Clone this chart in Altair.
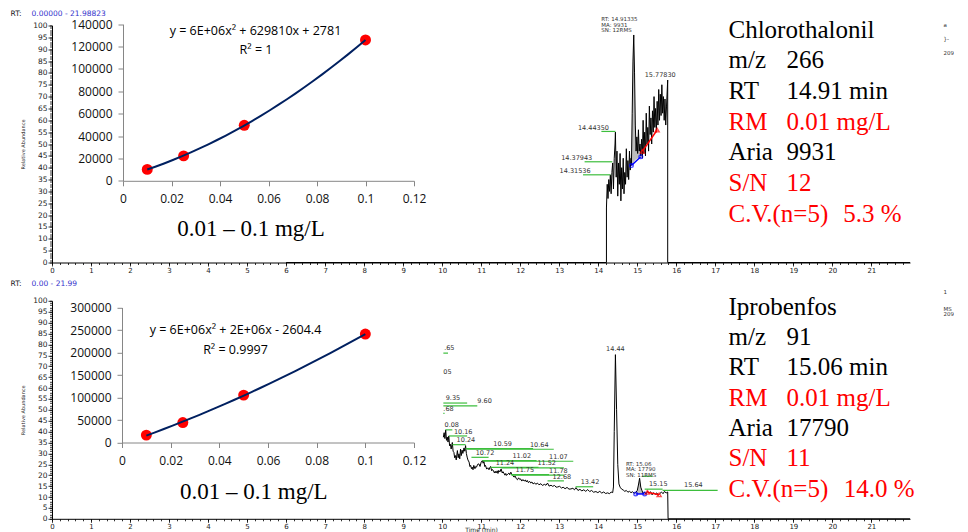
import altair as alt
import pandas as pd

# ------------------------------------------------------------------ data
conc = [0.01, 0.025, 0.05, 0.1]
top_area = [10200, 22300, 49600, 125900]
bot_area = [16400, 44400, 105300, 240900]

# chromatogram traces (time min, relative abundance %)
top_trace = [
    (6.00, 0), (14.21, 0), (14.21, 23), (14.23, 33), (14.25, 27), (14.27, 35), (14.29, 30),
    (14.31, 37), (14.33, 29), (14.35, 38), (14.37, 42), (14.39, 31), (14.41, 44), (14.43, 50),
    (14.44, 55), (14.46, 36), (14.48, 47), (14.50, 28), (14.52, 42), (14.54, 33), (14.56, 46),
    (14.58, 26), (14.60, 40), (14.62, 31), (14.64, 44), (14.66, 29), (14.68, 38), (14.70, 33),
    (14.72, 48), (14.74, 36), (14.76, 43), (14.78, 35), (14.80, 47), (14.82, 39), (14.84, 44),
    (14.85, 41), (14.87, 63), (14.89, 85), (14.91, 96), (14.93, 80), (14.95, 58), (14.97, 47),
    (14.99, 53), (15.01, 46), (15.03, 56), (15.05, 47), (15.07, 50), (15.09, 45), (15.11, 52),
    (15.13, 44), (15.15, 60), (15.17, 46), (15.19, 55), (15.21, 45), (15.23, 63), (15.25, 50),
    (15.27, 57), (15.29, 47), (15.31, 66), (15.33, 54), (15.35, 61), (15.37, 50), (15.39, 64),
    (15.41, 55), (15.43, 70), (15.45, 57), (15.47, 65), (15.49, 55), (15.51, 68), (15.53, 58),
    (15.55, 73), (15.57, 60), (15.59, 71), (15.61, 62), (15.63, 75), (15.65, 63), (15.67, 70),
    (15.69, 60), (15.71, 69), (15.73, 58), (15.75, 66), (15.78, 77), (15.78, 0), (21.99, 0),
]
top_fill = [
    (14.85, 41, 40.9), (14.87, 63, 41.4), (14.89, 85, 41.9), (14.91, 96, 42.4), (14.93, 80, 42.8),
    (14.95, 58, 43.3), (14.97, 47, 43.6), (14.99, 53, 43.8), (15.01, 46, 44.0), (15.03, 56, 44.2),
    (15.05, 47, 44.4), (15.07, 50, 44.5), (15.09, 45, 44.6),
]
top_blue = [(14.85, 40.9), (15.09, 44.6)]
top_red = [(15.13, 46.9), (15.51, 55.9)]
top_leaders = [(13.61, 14.31, 37.0), (13.65, 14.36, 42.5), (14.08, 14.44, 55.3)]
top_labels = [("14.31536", 13.01, 37.0), ("14.37943", 13.05, 42.5),
              ("14.44350", 13.48, 55.3), ("15.77830", 15.19, 77.7)]
top_labels_c = []
top_peakinfo = [("RT: 14.91335", 14.08, 102.6), ("MA: 9931", 14.08, 100.3), ("SN: 12RMS", 14.08, 98.0)]

bot_trace = [
    (10.03, 37.4), (10.05, 39.5), (10.07, 36.8), (10.09, 40.8), (10.11, 36.0), (10.13, 37.5),
    (10.15, 35.2), (10.17, 38.0), (10.19, 33.5), (10.21, 34.2), (10.23, 32.0), (10.26, 35.0),
    (10.28, 31.0), (10.30, 30.5), (10.32, 28.0), (10.34, 29.0), (10.36, 27.0), (10.39, 31.3),
    (10.41, 28.0), (10.43, 29.8), (10.45, 27.5), (10.47, 32.0), (10.49, 29.0), (10.51, 31.5),
    (10.53, 30.0), (10.56, 32.5), (10.58, 31.0), (10.60, 33.6), (10.62, 30.0), (10.64, 28.3),
    (10.66, 27.0), (10.69, 26.0), (10.71, 24.0), (10.73, 24.5), (10.75, 23.0), (10.77, 23.7),
    (10.79, 22.5), (10.81, 24.5), (10.84, 23.0), (10.86, 24.0), (10.88, 23.7), (10.91, 25.0),
    (10.94, 25.2), (10.97, 24.0), (11.00, 26.0), (11.03, 26.7), (11.05, 25.5), (11.07, 26.4),
    (11.09, 24.0), (11.11, 24.5), (11.14, 22.8), (11.17, 23.4), (11.20, 22.5), (11.22, 23.5),
    (11.24, 24.0), (11.27, 22.0), (11.29, 22.6), (11.31, 22.2), (11.34, 21.0), (11.36, 21.8),
    (11.38, 21.0), (11.41, 22.0), (11.43, 20.8), (11.45, 22.2), (11.48, 21.5), (11.51, 22.9),
    (11.54, 21.0), (11.56, 21.6), (11.58, 21.0), (11.61, 20.0), (11.63, 20.8), (11.65, 19.9),
    (11.68, 20.5), (11.71, 21.0), (11.73, 20.2), (11.76, 21.4), (11.78, 20.5), (11.81, 19.8),
    (11.84, 19.1), (11.87, 19.6), (11.90, 18.4), (11.93, 17.9), (11.96, 18.8), (11.99, 18.0),
    (12.01, 18.3), (12.04, 17.3), (12.07, 18.0), (12.10, 17.3), (12.13, 17.8), (12.16, 16.9),
    (12.18, 17.6), (12.21, 16.6), (12.24, 17.2), (12.27, 16.4), (12.30, 16.9), (12.33, 16.0),
    (12.37, 16.5), (12.40, 15.8), (12.44, 16.4), (12.48, 15.6), (12.53, 16.1), (12.57, 15.3),
    (12.62, 15.8), (12.66, 15.4), (12.70, 16.4), (12.74, 15.0), (12.79, 15.4), (12.83, 14.9),
    (12.88, 15.3), (12.92, 14.5), (12.96, 14.6), (13.01, 14.9), (13.06, 14.1), (13.10, 14.5),
    (13.15, 13.8), (13.20, 14.4), (13.25, 13.6), (13.30, 13.7), (13.35, 14.0), (13.39, 13.3),
    (13.43, 14.3), (13.48, 13.0), (13.53, 13.5), (13.58, 12.8), (13.63, 13.3), (13.68, 12.6),
    (13.73, 13.4), (13.78, 12.5), (13.83, 13.0), (13.88, 12.2), (13.94, 12.5), (13.99, 12.0),
    (14.04, 12.6), (14.09, 11.8), (14.14, 12.3), (14.19, 11.6), (14.24, 11.9), (14.29, 11.5),
    (14.33, 12.3), (14.37, 12.0), (14.39, 14.6), (14.41, 40.0), (14.44, 75.3), (14.47, 50.0),
    (14.50, 25.0), (14.53, 16.0), (14.56, 14.5), (14.60, 13.6), (14.64, 13.2), (14.68, 12.6),
    (14.72, 13.0), (14.76, 12.2), (14.80, 12.6), (14.84, 12.0), (14.88, 12.4), (14.92, 11.7),
    (14.96, 12.0), (15.00, 13.0), (15.03, 15.5), (15.06, 18.6), (15.09, 14.5), (15.12, 13.0),
    (15.15, 11.6), (15.19, 12.2), (15.22, 11.3), (15.26, 12.5), (15.30, 11.8), (15.34, 12.4),
    (15.38, 11.0), (15.42, 12.0), (15.46, 11.2), (15.50, 11.9), (15.54, 10.8), (15.58, 11.6),
    (15.62, 12.3), (15.66, 11.5), (15.70, 12.6), (15.74, 11.8), (15.78, 12.3), (15.79, 0),
    (21.99, 0),
]
bot_fill = [(14.96, 12.0, 11.4), (15.00, 13.0, 11.4), (15.03, 15.5, 11.4), (15.06, 18.6, 11.4),
            (15.09, 14.5, 11.4), (15.12, 13.0, 11.4), (15.15, 11.6, 11.4)]
bot_blue = [(14.96, 11.4), (15.19, 11.4)]
bot_red = [(15.26, 12.2), (15.56, 11.0)]
bot_leaders = [
    (10.03, 10.15, 76.0), (10.03, 10.64, 53.1), (10.03, 10.90, 51.8), (10.03, 10.06, 48.4),
    (10.09, 10.26, 40.8), (10.17, 10.64, 38.0), (10.26, 10.60, 34.0), (10.60, 12.33, 32.2),
    (10.64, 12.86, 31.9), (10.75, 11.19, 28.2), (11.03, 12.42, 26.7), (11.07, 13.36, 26.4),
    (11.24, 12.47, 23.6), (11.52, 13.12, 23.4), (11.76, 12.74, 20.3), (11.78, 13.12, 20.0),
    (12.70, 13.12, 17.4), (13.42, 13.87, 14.7), (15.13, 15.39, 19.5), (15.19, 15.65, 13.6),
    (15.65, 17.06, 13.0),
]
bot_labels = [
    (".65", 10.05, 76.6), ("05", 10.03, 65.6), ("9.35", 10.09, 53.6), ("9.60", 10.90, 52.3),
    (".68", 10.03, 48.6), ("0.08", 10.06, 41.2), ("10.16", 10.30, 38.4), ("10.24", 10.37, 34.4),
    ("10.59", 11.31, 32.6), ("10.64", 12.25, 32.3), ("10.72", 10.86, 28.6), ("11.02", 11.80, 27.1),
    ("11.07", 12.74, 26.8), ("11.24", 11.37, 24.0), ("11.52", 12.44, 23.8), ("11.75", 11.88, 20.7),
    ("11.78", 12.74, 20.4), ("12.68", 12.83, 17.6), ("13.42", 13.55, 15.1), ("15.15", 15.30, 14.2),
    ("15.64", 16.20, 14.0),
]
bot_labels_c = [("14.44", 14.44, 76.3)]
bot_peakinfo = [("RT: 15.06", 14.71, 25.3), ("MA: 17790", 14.71, 22.8), ("SN: 11RMS", 14.71, 20.3)]

# text blocks
top_info_labels = ["Chlorothalonil", "m/z", "RT", "RM", "Aria", "S/N", "C.V.(n=5)"]
top_info_values = ["", "266", "14.91 min", "0.01 mg/L", "9931", "12", "5.3 %"]
bot_info_labels = ["Iprobenfos", "m/z", "RT", "RM", "Aria", "S/N", "C.V.(n=5)"]
bot_info_values = ["", "91", "15.06 min", "0.01 mg/L", "17790", "11", "14.0 %"]
info_colors = ["black", "black", "black", "#FF0000", "black", "#FF0000", "#FF0000"]

top_eq, top_r2 = "y = 6E+06x² + 629810x + 2781", "R² = 1"
bot_eq, bot_r2 = "y = 6E+06x² + 2E+06x - 2604.4", "R² = 0.9997"
range_text = "0.01 – 0.1 mg/L"
top_header = ("RT:", "0.00000 - 21.98823")
bot_header = ("RT:", "0.00 - 21.99")
top_frag = ["a", "}-", "209"]
bot_frag = ["1", "MS", "209"]

X_MAJOR = list(range(0, 22))
X_MINOR = [round(i * 0.2, 1) for i in range(0, 110)]
Y_MAJOR = list(range(0, 101, 5))
Y_MINOR = list(range(0, 101))
INSET_X_TICKS = [0, 0.02, 0.04, 0.06, 0.08, 0.1, 0.12]

W = 858
GREEN = "#3DBE3D"
SMALL = "DejaVu Sans"


def text_mark(s, x, y, size, color="black", font="Liberation Serif", align="left",
              baseline="alphabetic"):
    return alt.Chart(pd.DataFrame({"s": [s]})).mark_text(
        align=align, baseline=baseline, fontSize=size, font=font, color=color
    ).encode(x=alt.value(x), y=alt.value(y), text="s:N")


def chrom_layers(trace, fill, blue, red, leaders, labels, labels_c, peakinfo, xtitle):
    xs = alt.Scale(domain=[0, 21.99], nice=False, zero=False)
    ys = alt.Scale(domain=[0, 100], nice=False, zero=False)
    ax_common = dict(labelFont=SMALL, labelColor="#222",
                     labelOverlap=False, domainColor="black", tickColor="black",
                     tickWidth=0.8, grid=False)
    x_major = alt.Axis(orient="bottom", values=X_MAJOR, format="d", tickSize=3.5,
                       labelFontSize=7, labelPadding=0,
                       labelFlush=False, title=xtitle, titleFont=SMALL, titleFontSize=6,
                       titleFontWeight="normal", titlePadding=-2.5, titleColor="#222", **ax_common)
    y_major = alt.Axis(orient="left", values=Y_MAJOR, format="d", tickSize=4,
                       labelFontSize=7.5, labelPadding=1,
                       title="Relative Abundance", titleFont=SMALL, titleFontSize=5,
                       titleFontWeight="normal", titlePadding=7, titleColor="#222", **ax_common)
    x_minor = alt.Axis(orient="bottom", values=X_MINOR, tickSize=2, labels=False, domain=False,
                       title=None, tickColor="black", tickWidth=0.8, grid=False)
    y_minor = alt.Axis(orient="left", values=Y_MINOR, tickSize=2.5, labels=False, domain=False,
                       title=None, tickColor="black", tickWidth=0.8, grid=False)

    df_tr = pd.DataFrame(trace, columns=["t", "pct"])
    df_tr["i"] = range(len(df_tr))
    X = lambda f: alt.X(f, scale=xs, axis=None)
    Y = lambda f: alt.Y(f, scale=ys, axis=None)

    line = alt.Chart(df_tr).mark_line(color="black", strokeWidth=1).encode(
        x=alt.X("t:Q", scale=xs, axis=x_major), y=alt.Y("pct:Q", scale=ys, axis=y_major),
        order="i:Q")
    area = alt.Chart(pd.DataFrame(fill, columns=["t", "top", "base"])).mark_area(
        color="#BDBDBD", opacity=1).encode(x=X("t:Q"), y=Y("top:Q"), y2="base:Q")
    df_b = pd.DataFrame(blue, columns=["t", "pct"])
    df_r = pd.DataFrame(red, columns=["t", "pct"])
    bl = alt.Chart(df_b).mark_line(color="#0000FF", strokeWidth=1.5).encode(x=X("t:Q"), y=Y("pct:Q"))
    bp = alt.Chart(df_b).mark_point(shape="circle", filled=False, size=14, color="#0000FF",
                                    strokeWidth=1.3).encode(x=X("t:Q"), y=Y("pct:Q"))
    rl = alt.Chart(df_r).mark_line(color="#FF0000", strokeWidth=1.5).encode(x=X("t:Q"), y=Y("pct:Q"))
    rp = alt.Chart(df_r).mark_point(shape="triangle-up", filled=False, size=18, color="#FF0000",
                                    strokeWidth=1.3).encode(x=X("t:Q"), y=Y("pct:Q"))
    rules = alt.Chart(pd.DataFrame(leaders, columns=["t0", "t1", "pct"])).mark_rule(
        color=GREEN, strokeWidth=1.2).encode(
        x=alt.X("t0:Q", scale=xs, axis=x_minor), x2="t1:Q",
        y=alt.Y("pct:Q", scale=ys, axis=y_minor))
    layers = [area, line, bl, rl, bp, rp, rules]
    lab = alt.Chart(pd.DataFrame(labels, columns=["s", "t", "pct"])).mark_text(
        align="left", baseline="bottom", dy=-0.5, font=SMALL, fontSize=6.5, color="#333"
    ).encode(x=X("t:Q"), y=Y("pct:Q"), text="s:N")
    layers.append(lab)
    if labels_c:
        labc = alt.Chart(pd.DataFrame(labels_c, columns=["s", "t", "pct"])).mark_text(
            align="center", baseline="bottom", font=SMALL, fontSize=6.5, color="#333"
        ).encode(x=X("t:Q"), y=Y("pct:Q"), text="s:N")
        layers.append(labc)
    pinfo = alt.Chart(pd.DataFrame(peakinfo, columns=["s", "t", "pct"])).mark_text(
        align="left", baseline="middle", font=SMALL, fontSize=5.5, color="#333"
    ).encode(x=X("t:Q"), y=Y("pct:Q"), text="s:N")
    layers.append(pinfo)
    return layers


def inset_layers(area_vals, ymax, ystep, xr, yr, xoff, yoff):
    df = pd.DataFrame({"conc": conc, "area": area_vals})
    cx = alt.Scale(domain=[0, 0.12], range=xr, nice=False, zero=False)
    cy = alt.Scale(domain=[0, ymax], range=yr, nice=False, zero=False)
    common = dict(domainColor="#868686", tickColor="#868686", tickSize=5, labelFont="Open Sans",
                  labelFontSize=12, labelColor="#111", grid=False, title=None, zindex=1,
                  labelOverlap=False, labelFlush=False)
    xa = alt.Axis(orient="bottom", offset=xoff, values=INSET_X_TICKS,
                  labelExpr="format(datum.value, '.2~f')", labelPadding=8, **common)
    ya = alt.Axis(orient="left", offset=yoff, values=list(range(0, ymax + 1, ystep)),
                  format="d", labelPadding=6, **common)
    pts = alt.Chart(df).mark_circle(color="#FF0000", size=120, opacity=1).encode(
        x=alt.X("conc:Q", scale=cx, axis=xa), y=alt.Y("area:Q", scale=cy, axis=ya))
    curve = alt.Chart(df).transform_regression(
        "conc", "area", method="poly", order=2, extent=[0.01, 0.1]
    ).mark_line(color="#002060", strokeWidth=2).encode(
        x=alt.X("conc:Q", scale=cx, axis=None), y=alt.Y("area:Q", scale=cy, axis=None))
    return [pts, curve]


def text_block(labels, values, y0, step, vx_cv):
    out = []
    for i, (lab, val, col) in enumerate(zip(labels, values, info_colors)):
        y = y0 + i * step
        out.append(text_mark(lab, 676.5, y, 25, color=col))
        if val:
            out.append(text_mark(val, vx_cv if i == len(labels) - 1 else 734.5, y, 25, color=col))
    return out


def panel(height, chrom, inset, eq, r2, eq_xy, r2_xy, rng_xy, info, header, header_y,
          frags, frag_ys):
    texts = [
        text_mark(eq, eq_xy[0], eq_xy[1], 12.5, font="Open Sans", align="center", baseline="middle"),
        text_mark(r2, r2_xy[0], r2_xy[1], 12.5, font="Open Sans", align="center", baseline="middle"),
        text_mark(range_text, rng_xy[0], rng_xy[1], 23, align="center"),
        text_mark(header[0], -41.5, header_y, 7.5, font=SMALL, color="#222", baseline="middle"),
        text_mark(header[1], -20.5, header_y, 7.5, font=SMALL, color="#3333CC", baseline="middle"),
    ]
    for f, fy in zip(frags, frag_ys):
        texts.append(text_mark(f, 891.5, fy, 5.5, font=SMALL, color="#333", baseline="middle"))
    texts += info
    return alt.layer(*chrom, *inset, *texts).resolve_scale(
        x="independent", y="independent").properties(width=W, height=height)


top_chrom = chrom_layers(top_trace, top_fill, top_blue, top_red, top_leaders, top_labels,
                         top_labels_c, top_peakinfo, None)
top_inset = inset_layers(top_area, 140000, 20000, [71, 362], [155.3, -1.3], -81.7, -71)
top_panel = panel(237, top_chrom, top_inset, top_eq, top_r2, (203.5, 5.3), (204, 24.6),
                  (199, 210.3), text_block(top_info_labels, top_info_values, 12, 30.7, 791.3),
                  top_header, -11.7, top_frag, [-0.7, 13.5, 27.6])

bot_chrom = chrom_layers(bot_trace, bot_fill, bot_blue, bot_red, bot_leaders, bot_labels,
                         bot_labels_c, bot_peakinfo, "Time (min)")
bot_inset = inset_layers(bot_area, 300000, 50000, [70, 362], [141.7, 6.7], -76.3, -70)
bot_panel = panel(218, bot_chrom, bot_inset, bot_eq, bot_r2, (183.5, 29.3), (183.5, 49.3),
                  (201.8, 198.3), text_block(bot_info_labels, bot_info_values, 14, 30.3, 791.8),
                  bot_header, -17.3, bot_frag, [-9.3, 8.3, 12.7])

chart = alt.vconcat(top_panel, bot_panel, spacing=38.3, bounds="flush").properties(
    padding={"left": 2, "top": 1.5, "right": 0, "bottom": 0}, background="white"
).configure_view(stroke=None).configure_axis(grid=False)

chart.save("out.html", embed_options={"renderer": "svg", "actions": False})
